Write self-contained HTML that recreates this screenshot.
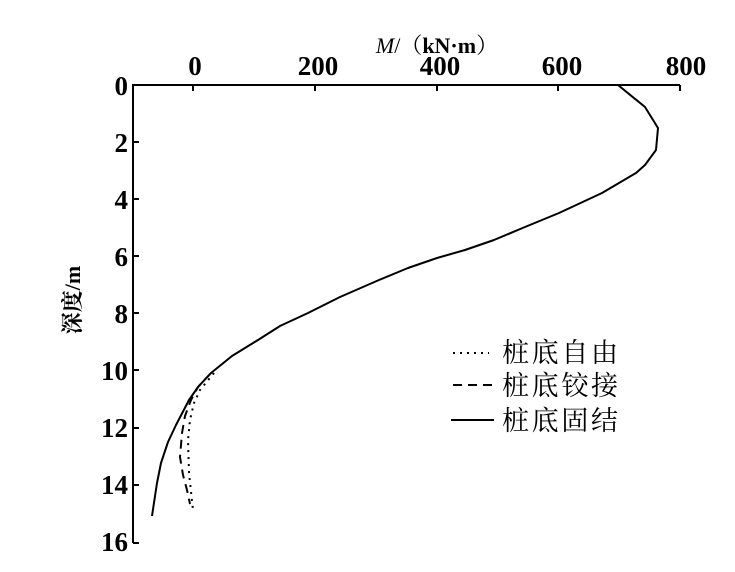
<!DOCTYPE html>
<html><head><meta charset="utf-8"><style>
body{margin:0;background:#fff;}
svg{display:block}
text{font-family:"Liberation Serif","Noto Serif CJK SC",serif;fill:#000}
</style></head><body>
<svg width="735" height="572" viewBox="0 0 735 572" xmlns="http://www.w3.org/2000/svg">
<text x="437" y="53" font-size="22" text-anchor="middle"><tspan font-style="italic">M</tspan>/（<tspan font-weight="bold">kN·m</tspan>）</text>
<g font-size="27" font-weight="bold" text-anchor="middle">
<text x="195" y="75">0</text><text x="318" y="75">200</text><text x="440" y="75">400</text><text x="562" y="75">600</text><text x="686" y="75">800</text>
</g>
<g font-size="27" font-weight="bold" text-anchor="end">
<text x="128" y="95">0</text><text x="128" y="152">2</text><text x="128" y="209">4</text><text x="128" y="266">6</text><text x="128" y="323">8</text><text x="128" y="380">10</text><text x="128" y="437">12</text><text x="128" y="494">14</text><text x="128" y="551">16</text>
</g>
<text transform="translate(80,300) rotate(-90)" font-size="22" font-weight="bold" text-anchor="middle" font-family="Liberation Serif,'Noto Sans CJK SC',sans-serif">深度/m</text>
<g stroke="#000" stroke-width="2" fill="none">
<path d="M133,543 V85 H680"/>
<path d="M193,85v6 M315,85v6 M437,85v6 M558,85v6 M680,85v6"/>
<path d="M133,142h6 M133,199h6 M133,256h6 M133,313h6 M133,370h6 M133,428h6 M133,485h6 M133,543h6"/>
</g>
<g fill="none" stroke="#000" stroke-width="2" stroke-linejoin="round">
<polyline points="618,85 645,107 658,128 656,150 645,165 636,173 602,193 559,213 525,227 494,240 465,250 437,258 408,268 379,280 340,297 308,313 280,326 258,340 232,356 211,373 198,387 189,400 176,425 168,442 161,463 157,483 152,516"/>
<polyline points="211,373 198,387 191,400 185,416 182,433 180,457 183,475 187,490 190,504" stroke-dasharray="9,6"/>
<polyline points="214,373 200,390 194,403 190,420 188,440 189,473 193,510" stroke-dasharray="2,5"/>
</g>
<g stroke="#000" stroke-width="2">
<line x1="453" y1="353" x2="489" y2="353" stroke-dasharray="2,5"/>
<line x1="453" y1="385" x2="493" y2="385" stroke-dasharray="9,6"/>
<line x1="451" y1="420" x2="494" y2="420"/>
</g>
<g font-size="27" font-family="'Noto Sans CJK SC',sans-serif">
<text x="502" y="362" textLength="116">桩底自由</text>
<text x="502" y="395" textLength="116">桩底铰接</text>
<text x="502" y="430" textLength="116">桩底固结</text>
</g>
</svg>
</body></html>
